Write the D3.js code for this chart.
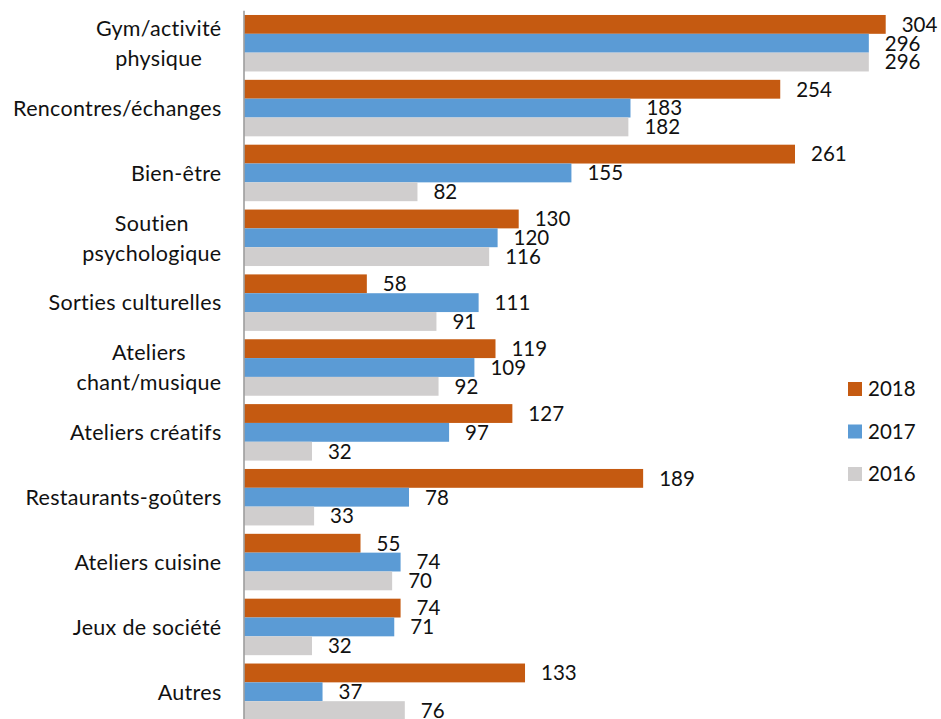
<!DOCTYPE html>
<html>
<head>
<meta charset="utf-8">
<script src="https://cdn.jsdelivr.net/npm/d3@7"></script>
<style>
  html, body { margin: 0; padding: 0; background: #fff; }
  svg { display: block; }
  text { font-family: Lato, "Open Sans", sans-serif; fill: #111; }
</style>
</head>
<body>
<svg id="chart" width="941" height="719"></svg>
<script>
// Activities (one entry per group, line breaks with "\n")
const categories = [
  "Gym/activité\nphysique",
  "Rencontres/échanges",
  "Bien-être",
  "Soutien\npsychologique",
  "Sorties culturelles",
  "Ateliers\nchant/musique",
  "Ateliers créatifs",
  "Restaurants-goûters",
  "Ateliers cuisine",
  "Jeux de société",
  "Autres"
];
const seriesNames = ["2018", "2017", "2016"];
const values2018 = [304, 254, 261, 130, 58, 119, 127, 189, 55, 74, 133];
const values2017 = [296, 183, 155, 120, 111, 109, 97, 78, 74, 71, 37];
const values2016 = [296, 182, 82, 116, 91, 92, 32, 33, 70, 32, 76];
const seriesValues = [values2018, values2017, values2016];
const colors = ["#C55A11", "#5B9BD5", "#D0CECE"];

const svg = d3.select("#chart");
const x0 = 244.5;
const maxVal = d3.max(seriesValues.flat());

const x = d3.scaleLinear().domain([0, maxVal]).range([x0, 885.7]);
const y = d3.scaleBand().domain(categories).range([10.8, 724.2])
  .paddingInner(0.129).paddingOuter(0.0645);
const ySub = d3.scaleBand().domain(seriesNames).range([0, y.bandwidth()]);

const valueFont = 20.5;
const labelFont = 21.5;

// Bars and value labels
categories.forEach((cat, i) => {
  const g = svg.append("g").attr("transform", `translate(0,${y(cat)})`);
  seriesNames.forEach((s, j) => {
    const v = seriesValues[j][i];
    g.append("rect")
      .attr("x", x(0))
      .attr("y", ySub(s))
      .attr("width", x(v) - x(0))
      .attr("height", ySub.bandwidth())
      .attr("fill", colors[j]);
    g.append("text")
      .attr("x", x(v) + 16)
      .attr("y", ySub(s) + ySub.bandwidth() / 2)
      .attr("dy", "0.36em")
      .attr("font-size", valueFont)
      .text(v);
  });
});

// Category labels: block right-aligned, lines centred on each other
const labelRight = 221.5;
const lineHeight = 30;
categories.forEach(cat => {
  const lines = cat.split("\n");
  const cy = y(cat) + y.bandwidth() / 2;
  const t = svg.append("text")
    .attr("font-size", labelFont)
    .attr("letter-spacing", 0.3);
  const spans = lines.map((ln, k) =>
    t.append("tspan")
      .attr("y", cy + (k - (lines.length - 1) / 2) * lineHeight)
      .attr("dy", "0.36em")
      .text(ln));
  const wMax = d3.max(spans, sp => sp.node().getComputedTextLength());
  spans.forEach(sp => sp.attr("x", labelRight - wMax / 2).attr("text-anchor", "middle"));
});

// Vertical category axis line
svg.append("line")
  .attr("x1", x0 - 0.5).attr("x2", x0 - 0.5)
  .attr("y1", y.range()[0]).attr("y2", y.range()[1])
  .attr("stroke", "#868686").attr("stroke-width", 1.3);

// Legend
const legend = svg.append("g");
seriesNames.forEach((s, j) => {
  const ly = 389 + j * 42.5;
  legend.append("rect")
    .attr("x", 848).attr("y", ly - 7)
    .attr("width", 14).attr("height", 14)
    .attr("fill", colors[j]);
  legend.append("text")
    .attr("x", 868).attr("y", ly)
    .attr("dy", "0.36em")
    .attr("font-size", valueFont)
    .text(s);
});
</script>
</body>
</html>
